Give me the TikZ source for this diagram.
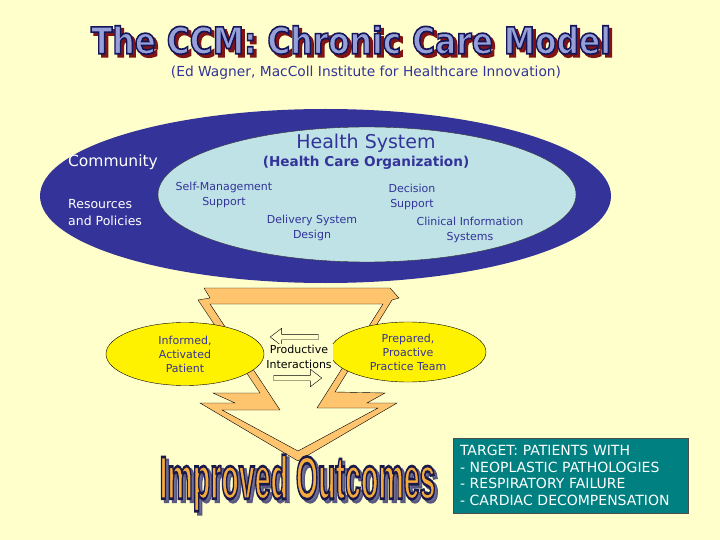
\documentclass[tikz,border=0pt]{standalone}
\usepackage{fontspec}
\setmainfont{DejaVu Sans}
\newfontfamily\artfont{Liberation Sans}
\usepackage{graphicx}
\usetikzlibrary{shapes.geometric, shapes.arrows, positioning}

\definecolor{paper}{RGB}{255,255,204}
\definecolor{ccmnavy}{RGB}{51,51,153}
\definecolor{ccmsky}{RGB}{190,226,230}
\definecolor{ccmorange}{RGB}{255,196,110}
\definecolor{ccmteal}{RGB}{0,128,128}
\definecolor{ttlfill}{RGB}{150,160,215}
\definecolor{ttlshadow}{RGB}{130,20,20}
\definecolor{outfill}{RGB}{245,170,60}
\definecolor{outshadow}{RGB}{110,110,150}

% outlined word art: stroke colour, then text
\newcommand{\stroked}[2]{\special{pdf:code 2 Tr 0.45 w #1 RG}#2\special{pdf:code 0 Tr}}
\newcommand{\ccmtitle}[1]{\resizebox{520pt}{28pt}{\stroked{#1}{\bfseries The CCM: Chronic Care Model}}}
\newcommand{\ccmoutcome}[1]{\resizebox{276pt}{44pt}{\stroked{#1}{\artfont\bfseries Improved Outcomes}}}

\begin{document}
\begin{tikzpicture}[
  x=1pt, y=-1pt,
  every node/.style={inner sep=0pt, align=center},
  inner/.style={font=\fontsize{11}{15}\selectfont, text=ccmnavy},
  care/.style={ellipse, draw=black, fill=yellow, font=\fontsize{11}{14}\selectfont,
             text=ccmnavy, minimum width=158pt, minimum height=63pt},
  flow/.style={single arrow, draw=black, fill=paper, minimum height=48pt,
             inner sep=2.5pt, single arrow head extend=6pt, single arrow tip angle=75},
  target/.style={rectangle, draw=black!70, fill=ccmteal, text=white, align=left,
             font=\fontsize{14}{16.7}\selectfont, text width=221pt, inner xsep=7pt,
             minimum height=75pt}
]
\useasboundingbox (0,0) rectangle (720,540);
\fill[paper] (0,0) rectangle (720,540);

% Title
\node[text=ttlshadow] (titleshadow) at (354,43) {\ccmtitle{0.5 0.08 0.08}};
\node[text=ttlfill] (title) at (351,40) {\ccmtitle{0.08 0.08 0.35}};
\node[font=\fontsize{13.8}{16}\selectfont, text=ccmnavy] (source) at (366,73)
  {(Ed Wagner, MacColl Institute for Healthcare Innovation)};

% Community and health system
\node[ellipse, fill=ccmnavy, minimum width=571pt, minimum height=174pt] (community) at (325.5,196) {};
\node[ellipse, draw=black!80, fill=ccmsky, minimum width=418pt, minimum height=135pt] (system) at (367,194.5) {};

\node[font=\fontsize{15.5}{18}\selectfont, text=white] (comm) at (113,162) {Community};
\node[font=\fontsize{12.5}{17}\selectfont, text=white, align=left, anchor=west] (resources) at (68,212.5)
  {Resources\\and Policies};
\node[font=\fontsize{19}{22}\selectfont, text=ccmnavy] (health) at (366,143) {Health System};
\node[font=\bfseries\fontsize{13.6}{15}\selectfont, text=ccmnavy, below=4pt of health] (hco)
  {(Health Care Organization)};
\node[inner] (selfmgmt) at (224,194.5) {Self-Management\\Support};
\node[inner] (decision) at (412,196.5) {Decision\\Support};
\node[inner] (delivery) at (312,227.5) {Delivery System\\Design};
\node[inner] (clinical) at (470,230) {Clinical Information\\Systems};

% Funnel
\filldraw[fill=ccmorange, draw=black, even odd rule]
  (204,288) -- (390,288) -- (399,298) -- (392,300) -- (335,392) -- (385,393)
  -- (367,403) -- (397,403) -- (298,461) -- (200,403) -- (235,403) -- (213,393)
  -- (260,393) -- (198,300) -- (210,298) -- cycle
  (210,304) -- (383,304) -- (317,408) -- (378,408) -- (298,451) -- (222,410)
  -- (280,410) -- cycle;

% Patient and team
\node[care] (patient) at (185,354) {Informed,\\Activated\\Patient};
\node[care, minimum width=156pt, minimum height=60pt] (team) at (408,352)
  {Prepared,\\Proactive\\Practice Team};
\node[flow, shape border rotate=180] (toPatient) at (296,337) {};
\node[flow] (toTeam) at (296,378) {};
\node[font=\fontsize{11}{15}\selectfont, fill=paper, inner sep=1pt] (interact) at (299,356.5)
  {Productive\\Interactions};

% Outcome
\node[text=outshadow] (outshade) at (300.5,486) {\ccmoutcome{0.35 0.35 0.5}};
\node[text=outfill] (outcome) at (297.5,483) {\ccmoutcome{0.1 0.1 0.3}};

\node[target] (tgt) at (570.5,475.5)
  {TARGET: PATIENTS WITH\\- NEOPLASTIC PATHOLOGIES\\- RESPIRATORY FAILURE\\- CARDIAC DECOMPENSATION};
\end{tikzpicture}
\end{document}
